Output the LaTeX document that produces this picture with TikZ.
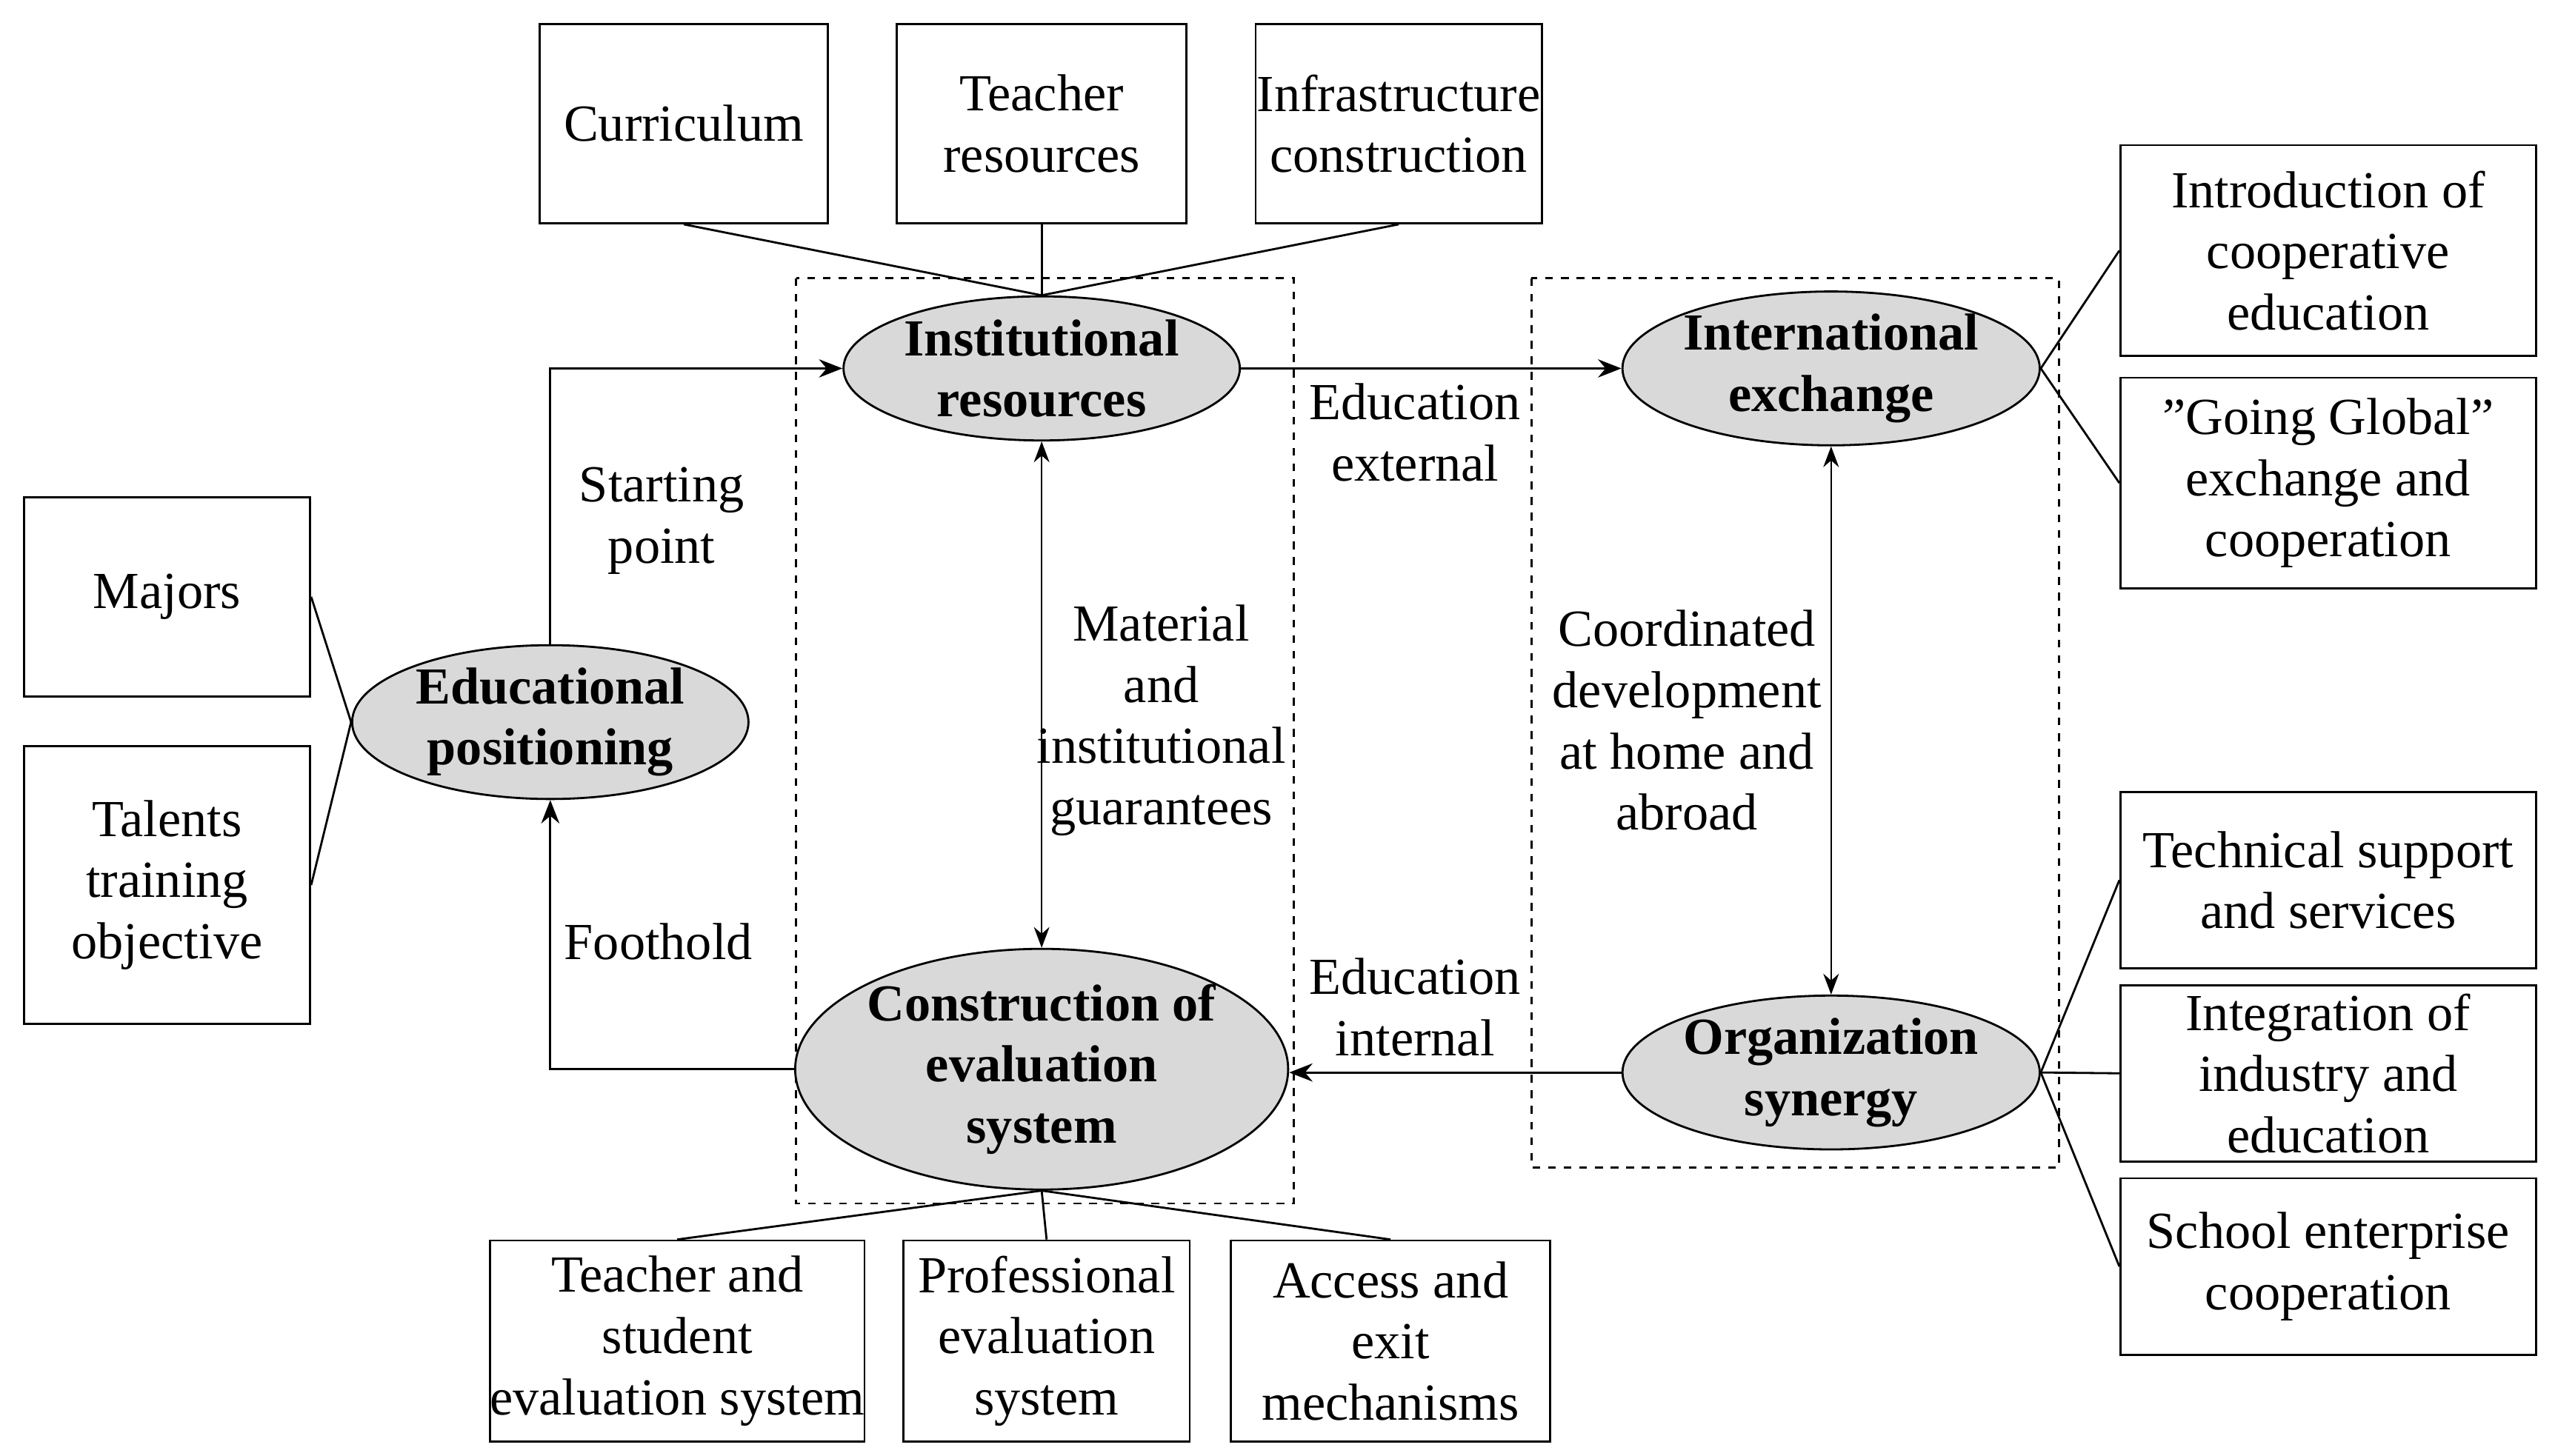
\documentclass[tikz,border=0pt]{standalone}
\usepackage{fontspec}
\setmainfont{Liberation Serif}
\usetikzlibrary{arrows.meta,shapes.geometric}
\begin{document}
\begin{tikzpicture}[x=0.02211cm,y=-0.02211cm,
 txt/.style={font=\fontsize{20}{23.5}\selectfont,align=center},
 bx/.style={draw,thick,txt,inner sep=0pt},
 ln/.style={thick},
 ar/.style={thick,-{Stealth[length=9pt,width=7pt]}},
 dar/.style={{Stealth[length=8pt,width=6pt]}-{Stealth[length=8pt,width=6pt]}}]
\useasboundingbox (0,0) rectangle (1560,889);
\newcommand\bxn[6]{\node[bx,minimum width=#4*0.02211cm-0.8pt,minimum height=#5*0.02211cm-0.8pt] (#1) at (#2,#3) {#6};}
\bxn{cur}{417.5}{75.5}{177}{123}{Curriculum}
\bxn{tr}{636}{75.5}{178}{123}{Teacher\\resources}
\bxn{inf}{854}{75.5}{176}{123}{Infrastructure\\construction}
\bxn{maj}{102}{364.5}{176}{123}{Majors}
\bxn{tal}{102}{540.5}{176}{171}{Talents\\training\\objective}
\bxn{intro}{1421.5}{153}{255}{130}{Introduction of\\cooperative\\education}
\bxn{gg}{1421.5}{295}{255}{130}{"Going Global"\\exchange and\\cooperation}
\bxn{tech}{1421.5}{537.5}{255}{109}{Technical support\\and services}
\bxn{integ}{1421.5}{655.5}{255}{109}{Integration of\\industry and\\education}
\bxn{sch}{1421.5}{773.5}{255}{109}{School enterprise\\cooperation}
\bxn{tse}{413.5}{819}{229}{124}{Teacher and\\student\\evaluation system}
\bxn{pes}{639}{819}{176}{124}{Professional\\evaluation\\system}
\bxn{aem}{849}{819}{196}{124}{Access and\\exit\\mechanisms}
\draw[dashed,thick] (486,170) rectangle (790,735);
\draw[dashed,thick] (935,170) rectangle (1257,713);
\newcommand\eln[6]{\node[draw,thick,ellipse,fill=gray!30,txt,font=\fontsize{20}{23.5}\selectfont\bfseries,inner sep=0pt,minimum width=#4*0.02211cm,minimum height=#5*0.02211cm] (#1) at (#2,#3) {#6};}
\eln{ir}{636}{225}{242}{88}{Institutional\\resources}
\eln{ie}{1118}{225}{242}{88}{International\\exchange}
\eln{ep}{336}{441}{242}{88}{Educational\\positioning}
\eln{ce}{636}{653}{242}{134}{Construction of\\evaluation\\system}
\eln{os}{1118}{655}{242}{88}{Organization\\synergy}
\foreach \b in {cur,tr,inf} \draw[ln] (\b.south) -- (ir.north);
\foreach \b in {tse,pes,aem} \draw[ln] (\b.north) -- (ce.south);
\draw[ln] (maj.east) -- (ep.west);
\draw[ln] (tal.east) -- (ep.west);
\draw[ln] (intro.west) -- (ie.east);
\draw[ln] (gg.west) -- (ie.east);
\foreach \b in {tech,integ,sch} \draw[ln] (\b.west) -- (os.east);
\draw[ar] (ep.north) |- (ir.west);
\draw[ar] (ce.west) -| (ep.south);
\draw[ar] (ir.east) -- (ie.west);
\draw[ar] (os.west) -- (ce.east |- os.west);
\draw[dar] (ir.south) -- (ce.north);
\draw[dar] (ie.south) -- (os.north);
\node[txt] (sp) at (404,318) {Starting\\point};
\node[txt] (fh) at (402,575) {Foothold};
\node[txt] (ee) at (864,264) {Education\\external};
\node[txt] (ei) at (864,615) {Education\\internal};
\node[txt] (mig) at (709,440) {Material\\and\\institutional\\guarantees};
\node[txt] (cd) at (1030,440) {Coordinated\\development\\at home and\\abroad};
\end{tikzpicture}
\end{document}
